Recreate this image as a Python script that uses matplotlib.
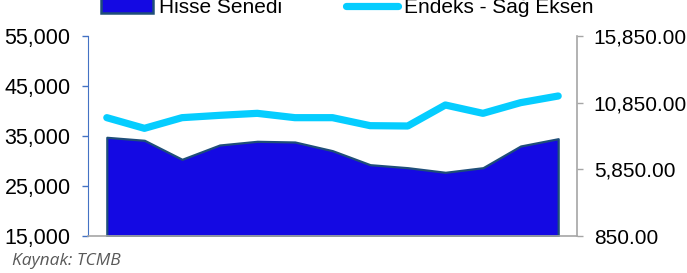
import matplotlib
matplotlib.use("Agg")
import matplotlib.pyplot as plt
from matplotlib.ticker import FuncFormatter, FixedLocator
from matplotlib.patches import Patch
from matplotlib.lines import Line2D

# Data
periods = list(range(13))
hisse_senedi = [34740, 34140, 30340, 33200, 33940, 33800, 32060,
                29260, 28660, 27740, 28660, 33000, 34460]
endeks = [9725, 8925, 9725, 9900, 10050, 9725, 9725,
          9125, 9100, 10675, 10050, 10850, 11350]
left_ticks = [15000, 25000, 35000, 45000, 55000]
right_ticks = [850, 5850, 10850, 15850]
legend_labels = ["Hisse Senedi", "Endeks - Sağ Eksen"]
source_text = "Kaynak: TCMB"

plt.rcParams['font.family'] = ['Liberation Sans', 'DejaVu Sans']

W, H = 687, 273
fig = plt.figure(figsize=(W / 100, H / 100), dpi=100)
ax = fig.add_axes([88 / W, 1 - 236 / H, (577 - 88) / W, 200 / H])
ax2 = ax.twinx()

fill_c = '#1409E3'
edge_c = '#1F4E79'
line_c = '#05CDFF'
left_c = '#4472C4'
gray_c = '#A6A6A6'

ax.fill_between(periods, hisse_senedi, left_ticks[0], facecolor=fill_c,
                edgecolor=edge_c, linewidth=1.6, zorder=2)
ax2.plot(periods, endeks, color=line_c, linewidth=5.2,
         solid_capstyle='round', solid_joinstyle='round', zorder=3)

ax.set_xlim(-0.5, 12.5)
ax.set_ylim(left_ticks[0], left_ticks[-1])
ax2.set_ylim(right_ticks[0], right_ticks[-1])
ax.yaxis.set_major_locator(FixedLocator(left_ticks))
ax2.yaxis.set_major_locator(FixedLocator(right_ticks))
ax.yaxis.set_major_formatter(FuncFormatter(lambda v, p: f"{v:,.0f}"))
ax2.yaxis.set_major_formatter(FuncFormatter(lambda v, p: f"{v:,.2f}"))
ax.set_xticks([])

for a in (ax, ax2):
    a.spines['top'].set_visible(False)
    a.set_facecolor('none')
ax.spines['right'].set_visible(False)
ax2.spines['left'].set_visible(False)
ax2.spines['bottom'].set_visible(False)
ax.spines['left'].set_color(left_c)
ax.spines['bottom'].set_color(gray_c)
ax.spines['bottom'].set_linewidth(1.2)
ax2.spines['right'].set_color(gray_c)
ax2.spines['right'].set_linewidth(1.2)

ax.tick_params(axis='y', direction='out', length=4.5, width=1, color=left_c,
               labelsize=15.5, pad=8, labelcolor='black')
ax2.tick_params(axis='y', direction='out', length=4.5, width=1, color=gray_c,
                labelsize=15, pad=7.5, labelcolor='black')

handles = [Patch(facecolor=fill_c, edgecolor=edge_c, linewidth=1.8),
           Line2D([0], [0], color=line_c, linewidth=5.2, solid_capstyle='round')]
fig.legend(handles, legend_labels, loc='center left',
           bbox_to_anchor=(101 / W, 1 - 7.5 / H), ncol=2, frameon=False,
           fontsize=15, handlelength=2.5, handletextpad=0.29,
           columnspacing=3.05, borderpad=0, borderaxespad=0)

fig.text(12 / W, 1 - 261 / H, source_text, fontsize=12.5, style='italic',
         color='#595959', family=['Open Sans', 'DejaVu Sans'], va='center', ha='left')

fig.savefig('out.png', dpi=100)
